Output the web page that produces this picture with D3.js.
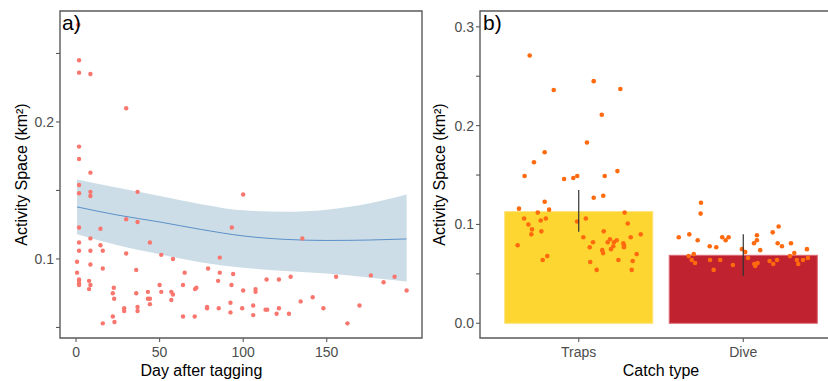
<!DOCTYPE html>
<html>
<head>
<meta charset="utf-8">
<title>Activity space</title>
<script src="https://d3js.org/d3.v7.min.js"></script>
<style>
  body { margin: 0; background: #fff; }
  svg text { font-family: "Liberation Sans", Arial, sans-serif; }
</style>
</head>
<body>
<div id="chart"></div>
<script>
// ---- panel a) : activity space by day after tagging ----
var tagDays = [1.4, 1.8, 1.8, 8.6, 30, 1.8, 1.8, 8.6, 1.8, 1.8, 8.6, 8.6, 36.8, 100,
  1.8, 14.6, 30, 36.8, 93.2, 135.4, 1.8, 1.8, 8.6, 14.6, 16, 8.6, 44.2, 30,
  0.6, 0.6, 8.6, 16, 36, 51, 58, 86, 1.8, 1.8, 1.8, 1.8, 7.8, 8.6, 7.8,
  22.6, 22, 22.8, 36, 43, 43, 44.2, 44.2, 50, 51, 57, 58, 57, 65, 64, 71.2, 72,
  79, 86, 85, 93, 94, 100, 107.4, 107.4, 114, 121.4, 128.4, 155.6, 176.4, 184,
  190.6, 197.8, 28.8, 28.8, 36.8, 36.8, 22, 23, 16, 64, 71, 78.4, 78.4, 85.4,
  92.4, 92.4, 99.4, 106, 106, 113.4, 114.4, 120, 121.4, 127.4, 134.4, 141.6,
  148, 162.4, 169.6];
var tagArea = [0.271, 0.245, 0.236, 0.235, 0.210, 0.182, 0.173, 0.163, 0.154, 0.148, 0.149, 0.146, 0.149, 0.147,
  0.123, 0.122, 0.129, 0.127, 0.123, 0.115, 0.112, 0.106, 0.115, 0.110, 0.106, 0.106, 0.112, 0.104,
  0.098, 0.090, 0.096, 0.093, 0.092, 0.103, 0.100, 0.101, 0.085, 0.084, 0.082, 0.081, 0.084, 0.081, 0.078,
  0.079, 0.075, 0.071, 0.075, 0.076, 0.071, 0.071, 0.067, 0.081, 0.076, 0.076, 0.074, 0.070, 0.090, 0.081, 0.078, 0.079,
  0.093, 0.090, 0.084, 0.081, 0.089, 0.077, 0.078, 0.076, 0.085, 0.085, 0.087, 0.087, 0.088, 0.083,
  0.087, 0.077, 0.064, 0.062, 0.065, 0.062, 0.058, 0.054, 0.053, 0.058, 0.058, 0.065, 0.064, 0.064,
  0.068, 0.061, 0.064, 0.066, 0.059, 0.063, 0.063, 0.060, 0.064, 0.060, 0.069, 0.072,
  0.064, 0.053, 0.066];

// smoother and its confidence band
var fitDays = [0.6, 25, 50, 75, 100, 125, 150, 175, 197.8];
var fitMid = [0.138, 0.132, 0.127, 0.1215, 0.1168, 0.1143, 0.1135, 0.1138, 0.1146];
var fitLo = [0.118, 0.110, 0.1035, 0.0975, 0.0935, 0.0912, 0.0893, 0.0865, 0.0835];
var fitHi = [0.158, 0.152, 0.146, 0.140, 0.1355, 0.1345, 0.1360, 0.1405, 0.1470];

var dayTicks = [0, 50, 100, 150];
var areaTicksA = [0.1, 0.2];
var areaMinorA = [0.05, 0.15, 0.25];

// ---- panel b) : activity space by catch type ----
var catchTypes = ["Traps", "Dive"];
var catchMeans = [0.1130, 0.0688];
var catchErrLo = [0.0926, 0.0478];
var catchErrHi = [0.1348, 0.0900];
var barFill = ["#FDD631", "#C0222F"];
var barEdge = ["#FDE27A", "#DC6A74"];

var trapJitter = [-0.298, -0.152, 0.091, 0.253, 0.140, 0.050, -0.207, -0.272, -0.329, -0.089, -0.033, -0.009,
  0.158, 0.235, 0.091, 0.149, -0.363, -0.332, -0.306, -0.284, -0.288, -0.371, -0.249, -0.207, -0.180,
  -0.231, -0.200, -0.227, -0.219, -0.191, -0.010, 0.043, 0.028, 0.067, 0.087, 0.070, 0.109, 0.152,
  0.143, 0.148, 0.176, 0.190, 0.196, 0.214, 0.210, 0.231, 0.241, 0.271, 0.275, 0.275, 0.279, 0.298,
  0.316, 0.328, 0.322, 0.352, 0.377];
var trapArea = [0.271, 0.236, 0.245, 0.237, 0.211, 0.183, 0.173, 0.163, 0.149, 0.146, 0.147, 0.149,
  0.149, 0.154, 0.127, 0.129, 0.116, 0.106, 0.100, 0.095, 0.090, 0.079, 0.112, 0.123, 0.115,
  0.104, 0.106, 0.093, 0.064, 0.068, 0.103, 0.106, 0.087, 0.077, 0.082, 0.062, 0.054, 0.093,
  0.074, 0.071, 0.082, 0.085, 0.075, 0.082, 0.078, 0.084, 0.064, 0.081, 0.079, 0.077, 0.112, 0.101,
  0.087, 0.063, 0.054, 0.070, 0.090];
var diveJitter = [-0.257, -0.259, -0.392, -0.328, -0.277, -0.332, -0.301, -0.313, -0.293, -0.204, -0.164,
  -0.202, -0.180, -0.140, -0.128, -0.107, -0.089, -0.063, -0.008, 0.012, 0.029, 0.065, 0.083, 0.083,
  0.103, 0.067, 0.073, 0.087, 0.160, 0.182, 0.205, 0.179, 0.215, 0.209, 0.235, 0.290, 0.284, 0.310,
  0.326, 0.334, 0.363, 0.387, 0.393];
var diveArea = [0.122, 0.111, 0.087, 0.090, 0.084, 0.068, 0.070, 0.064, 0.061, 0.078, 0.077,
  0.064, 0.054, 0.064, 0.087, 0.084, 0.087, 0.059, 0.075, 0.072, 0.066, 0.081, 0.084, 0.089,
  0.074, 0.060, 0.058, 0.061, 0.063, 0.060, 0.064, 0.092, 0.098, 0.081, 0.078, 0.081, 0.068, 0.071,
  0.064, 0.060, 0.064, 0.075, 0.066];

var areaTicksB = [0.0, 0.1, 0.2, 0.3];
var areaMinorB = [0.05, 0.15, 0.25];

// ---- drawing ----
var W = 828, H = 381;
var pTop = 11, pBottom = 338;
var tickCol = "#4D4D4D", frameCol = "#5A5A5A";

var svg = d3.select("#chart").append("svg")
  .attr("width", W).attr("height", H);

function frame(g, sides) {
  g.append("path")
    .attr("d", sides)
    .attr("fill", "none")
    .attr("stroke", frameCol)
    .attr("stroke-width", 1.4);
}

function yTicks(g, x0, y, major, minor) {
  major.forEach(function (v) {
    g.append("line").attr("x1", x0 - 4).attr("x2", x0).attr("y1", y(v)).attr("y2", y(v))
      .attr("stroke", frameCol).attr("stroke-width", 1.1);
    g.append("text").attr("x", x0 - 6).attr("y", y(v)).attr("dy", "0.36em")
      .attr("text-anchor", "end").attr("font-size", 14).attr("fill", tickCol)
      .text(d3.format(".1f")(v));
  });
  minor.forEach(function (v) {
    g.append("line").attr("x1", x0 - 4).attr("x2", x0).attr("y1", y(v)).attr("y2", y(v))
      .attr("stroke", frameCol).attr("stroke-width", 1.1);
  });
}

function yTitle(g, x, text) {
  g.append("text")
    .attr("transform", "translate(" + x + "," + ((pTop + pBottom) / 2) + ") rotate(-90)")
    .attr("text-anchor", "middle").attr("font-size", 16).attr("fill", "#000")
    .text(text);
}

// panel a
var xA = d3.scaleLinear().domain([-9.6, 207]).range([60, 422]);
var yA = d3.scaleLinear().domain([0.0423, 0.2810]).range([pBottom, pTop]);
var gA = svg.append("g");

gA.append("path")
  .datum(fitDays)
  .attr("fill", "#C6D9E4")
  .attr("fill-opacity", 0.9)
  .attr("d", d3.area()
    .curve(d3.curveMonotoneX)
    .x(function (d) { return xA(d); })
    .y0(function (d, i) { return yA(fitLo[i]); })
    .y1(function (d, i) { return yA(fitHi[i]); }));

gA.append("path")
  .datum(fitDays)
  .attr("fill", "none")
  .attr("stroke", "#5B90C8")
  .attr("stroke-width", 1)
  .attr("d", d3.line()
    .curve(d3.curveMonotoneX)
    .x(function (d) { return xA(d); })
    .y(function (d, i) { return yA(fitMid[i]); }));

gA.selectAll("circle.pt")
  .data(tagDays)
  .enter().append("circle")
  .attr("class", "pt")
  .attr("cx", function (d) { return xA(d); })
  .attr("cy", function (d, i) { return yA(tagArea[i]); })
  .attr("r", 2.2)
  .attr("fill", "#F8766D");

frame(gA, "M60," + pTop + "H422V" + pBottom + "H60Z");
yTicks(gA, 60, yA, areaTicksA, areaMinorA);

dayTicks.forEach(function (v) {
  gA.append("line").attr("x1", xA(v)).attr("x2", xA(v)).attr("y1", pBottom).attr("y2", pBottom + 4)
    .attr("stroke", frameCol).attr("stroke-width", 1.1);
  gA.append("text").attr("x", xA(v)).attr("y", pBottom + 19)
    .attr("text-anchor", "middle").attr("font-size", 14).attr("fill", tickCol).text(v);
});
yTitle(gA, 27, "Activity Space (km²)");
gA.append("text").attr("x", xA(75)).attr("y", 376)
  .attr("text-anchor", "middle").attr("font-size", 16).attr("fill", "#000")
  .text("Day after tagging");
gA.append("text").attr("x", 62).attr("y", 30).attr("font-size", 21).attr("fill", "#000").text("a)");

// panel b
var xB = d3.scalePoint().domain(catchTypes).range([480, 842]).padding(0.6);
var yB = d3.scaleLinear().domain([-0.0149, 0.316]).range([pBottom, pTop]);
var barW = xB.step() * 0.9;
var gB = svg.append("g");

gB.selectAll("rect.bar")
  .data(catchTypes)
  .enter().append("rect")
  .attr("class", "bar")
  .attr("x", function (d) { return xB(d) - barW / 2; })
  .attr("y", function (d, i) { return yB(catchMeans[i]); })
  .attr("width", barW)
  .attr("height", function (d, i) { return yB(0) - yB(catchMeans[i]); })
  .attr("fill", function (d, i) { return barFill[i]; })
  .attr("stroke", function (d, i) { return barEdge[i]; })
  .attr("stroke-width", 1);

function jitterPts(cat, offs, vals) {
  gB.selectAll("circle." + cat)
    .data(offs)
    .enter().append("circle")
    .attr("class", cat)
    .attr("cx", function (d) { return xB(cat) + d * xB.step(); })
    .attr("cy", function (d, i) { return yB(vals[i]); })
    .attr("r", 2.3)
    .attr("fill", "#FF6A0E");
}
jitterPts("Traps", trapJitter, trapArea);
jitterPts("Dive", diveJitter, diveArea);

gB.selectAll("line.err")
  .data(catchTypes)
  .enter().append("line")
  .attr("class", "err")
  .attr("x1", function (d) { return xB(d); })
  .attr("x2", function (d) { return xB(d); })
  .attr("y1", function (d, i) { return yB(catchErrLo[i]); })
  .attr("y2", function (d, i) { return yB(catchErrHi[i]); })
  .attr("stroke", "#333")
  .attr("stroke-width", 1.2);

frame(gB, "M842," + pTop + "H480V" + pBottom + "H842");
yTicks(gB, 480, yB, areaTicksB, areaMinorB);

catchTypes.forEach(function (c) {
  gB.append("line").attr("x1", xB(c)).attr("x2", xB(c)).attr("y1", pBottom).attr("y2", pBottom + 4)
    .attr("stroke", frameCol).attr("stroke-width", 1.1);
  gB.append("text").attr("x", xB(c)).attr("y", pBottom + 19)
    .attr("text-anchor", "middle").attr("font-size", 14).attr("fill", tickCol).text(c);
});
yTitle(gB, 445, "Activity Space (km²)");
gB.append("text").attr("x", (xB("Traps") + xB("Dive")) / 2).attr("y", 376)
  .attr("text-anchor", "middle").attr("font-size", 16).attr("fill", "#000")
  .text("Catch type");
gB.append("text").attr("x", 483).attr("y", 30).attr("font-size", 21).attr("fill", "#000").text("b)");
</script>
</body>
</html>
